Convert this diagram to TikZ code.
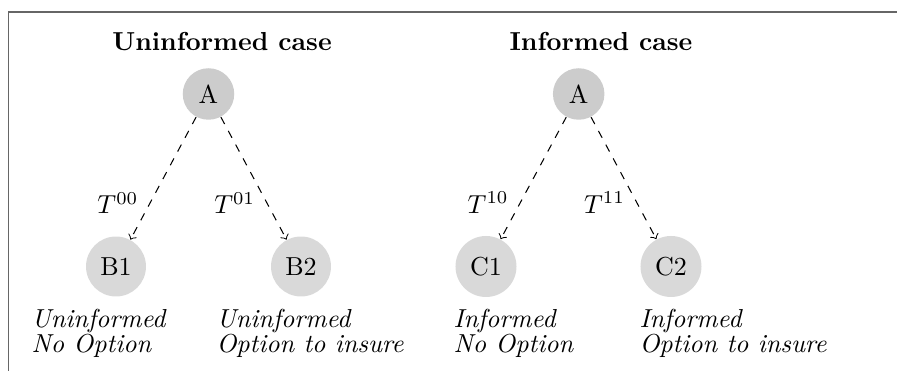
\documentclass[tikz,border=0pt]{standalone}
\begin{document}
\begin{tikzpicture}[x=0.3846pt,y=-0.3846pt,
  root/.style={circle,fill=gray!40,inner sep=0.333em},
  leaf/.style={circle,fill=gray!30,inner sep=0.333em},
  trans/.style={dashed,->,line width=0.4pt},
  tlab/.style={pos=0.7,left=1pt},
  desc/.style={anchor=north west,inner sep=0pt,align=left,font=\itshape},
  ttl/.style={anchor=base,font=\bfseries,inner sep=0pt}]
\useasboundingbox (0,0) rectangle (897,371);
\draw[black!60,line width=0.5pt] (8.5,371) -- (8.5,12) -- (897,12);
\node[ttl] (t1) at (222,51) {Uninformed case};
\node[ttl] (t2) at (601,51) {Informed case};
\node[root] (a1) at (208.5,94) {A};
\node[leaf] (b1) at (116,266.5) {B1};
\node[leaf] (b2) at (301,266.5) {B2};
\node[root] (a2) at (578.7,94) {A};
\node[leaf] (c1) at (486,266.5) {C1};
\node[leaf] (c2) at (671,266.5) {C2};
\draw[trans] (a1) -- node[tlab] (l00) {$T^{00}$} (b1);
\draw[trans] (a1) -- node[tlab] (l01) {$T^{01}$} (b2);
\draw[trans] (a2) -- node[tlab] (l10) {$T^{10}$} (c1);
\draw[trans] (a2) -- node[tlab] (l11) {$T^{11}$} (c2);
\node[desc] (d1) at (31,309) {Uninformed\\[-2.4pt]No Option};
\node[desc] (d2) at (216,309) {Uninformed\\[-2.4pt]Option to insure};
\node[desc] (d3) at (453,309) {Informed\\[-2.4pt]No Option};
\node[desc] (d4) at (639,309) {Informed\\[-2.4pt]Option to insure};
\end{tikzpicture}
\end{document}
